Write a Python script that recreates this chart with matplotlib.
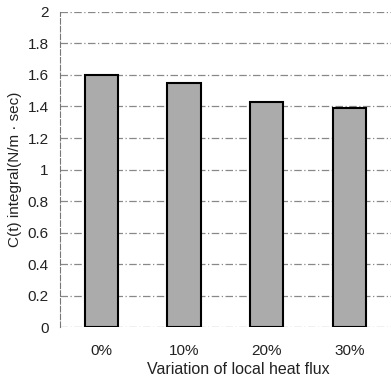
import matplotlib
matplotlib.use('Agg')
import matplotlib.pyplot as plt

categories = ['0%', '10%', '20%', '30%']
values = [1.60, 1.55, 1.43, 1.39]
yticks = [0, 0.2, 0.4, 0.6, 0.8, 1, 1.2, 1.4, 1.6, 1.8, 2]
ytick_labels = ['0', '0.2', '0.4', '0.6', '0.8', '1', '1.2', '1.4', '1.6', '1.8', '2']

plt.rcParams['font.family'] = ['Liberation Sans', 'DejaVu Sans']

fig = plt.figure(figsize=(3.91, 3.84), dpi=100)
ax = fig.add_axes([0.153, 0.148, 0.847, 0.821])

ax.yaxis.grid(True, color='#888888', linestyle=(0, (6, 2, 1, 2)), linewidth=0.9)
ax.set_axisbelow(True)
ax.bar(range(len(categories)), values, width=0.4, color='#ababab',
       edgecolor='black', linewidth=1.5, zorder=3)

ax.set_xlim(-0.5, 3.5)
ax.set_ylim(0, 2)
ax.set_yticks(yticks)
ax.set_yticklabels(ytick_labels)
ax.set_xticks(range(len(categories)))
ax.set_xticklabels(categories)

for s in ['top', 'right', 'bottom']:
    ax.spines[s].set_visible(False)
ax.spines['left'].set_color('#777777')
ax.spines['left'].set_linestyle((0, (5, 2)))
ax.spines['left'].set_linewidth(0.8)

ax.tick_params(axis='x', length=0, pad=12, labelsize=11, colors='#222222')
ax.tick_params(axis='y', length=0, pad=8, labelsize=11, colors='#222222')

ax.set_xlabel('Variation of local heat flux', fontsize=11.5, color='#222222', labelpad=4)
ax.xaxis.set_label_coords(0.54, -0.11)
ax.set_ylabel('C(t) integral(N/m · sec)', fontsize=11, color='#222222', labelpad=4)

fig.savefig('out.png', dpi=100)
